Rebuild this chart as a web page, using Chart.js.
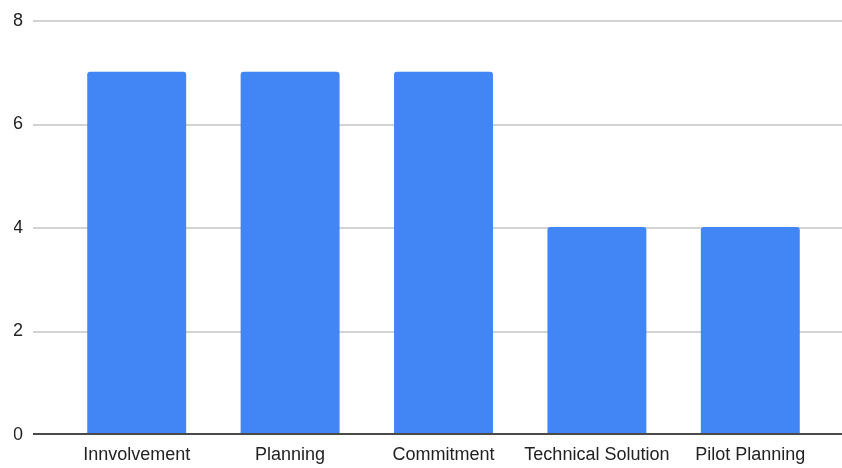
<!DOCTYPE html>
<html>
<head>
<meta charset="utf-8">
<script src="https://cdn.jsdelivr.net/npm/chart.js@4"></script>
<style>
  html, body { margin: 0; padding: 0; background: #fff; }
  canvas { display: block; }
</style>
</head>
<body>
<canvas id="c" width="842" height="468"></canvas>
<script>
const categories = ["Innvolvement", "Planning", "Commitment", "Technical Solution", "Pilot Planning"];
const values = [7, 7, 7, 4, 4];
const yTicks = [0, 2, 4, 6, 8];

const gridPlugin = {
  id: 'extGrid',
  beforeDatasetsDraw(chart) {
    const ctx = chart.ctx, y = chart.scales.y;
    ctx.save();
    ctx.strokeStyle = '#d3d3d3';
    ctx.lineWidth = 2;
    yTicks.forEach(v => {
      if (v === 0) return;
      const py = Math.round(y.getPixelForValue(v)) + 1;
      ctx.beginPath();
      ctx.moveTo(33, py);
      ctx.lineTo(842, py);
      ctx.stroke();
    });
    ctx.restore();
  },
  afterDatasetsDraw(chart) {
    const ctx = chart.ctx, y = chart.scales.y;
    ctx.save();
    ctx.strokeStyle = '#4a4a4a';
    ctx.lineWidth = 2;
    const py = Math.round(y.getPixelForValue(0));
    ctx.beginPath();
    ctx.moveTo(33, py);
    ctx.lineTo(842, py);
    ctx.stroke();
    ctx.restore();
  }
};

const font = { family: 'Liberation Sans, Arial, sans-serif', size: 18 };

new Chart(document.getElementById('c'), {
  type: 'bar',
  data: {
    labels: categories,
    datasets: [{
      data: values,
      backgroundColor: '#4285F4',
      borderRadius: { topLeft: 3, topRight: 3, bottomLeft: 0, bottomRight: 0 },
      borderSkipped: 'bottom',
      categoryPercentage: 1,
      barPercentage: 0.645
    }]
  },
  options: {
    responsive: false,
    animation: false,
    devicePixelRatio: 1,
    layout: { padding: { left: 14, right: 15, top: 20, bottom: 0 } },
    plugins: { legend: { display: false }, tooltip: { enabled: false } },
    scales: {
      x: {
        grid: { display: false, drawTicks: false },
        border: { display: false },
        ticks: { color: '#222222', font: font, padding: 10, maxRotation: 0, autoSkip: false },
        afterFit(scale) { scale.height = 34; scale.paddingLeft = 0; scale.paddingRight = 0; }
      },
      y: {
        min: 0, max: 8,
        grid: { display: false, drawTicks: false },
        border: { display: false },
        ticks: { stepSize: 2, color: '#222222', font: font, padding: 37, labelOffset: 1 },
        afterFit(scale) { scale.width = 46; scale.paddingTop = 0; scale.paddingBottom = 0; }
      }
    }
  },
  plugins: [gridPlugin]
});
</script>
</body>
</html>
